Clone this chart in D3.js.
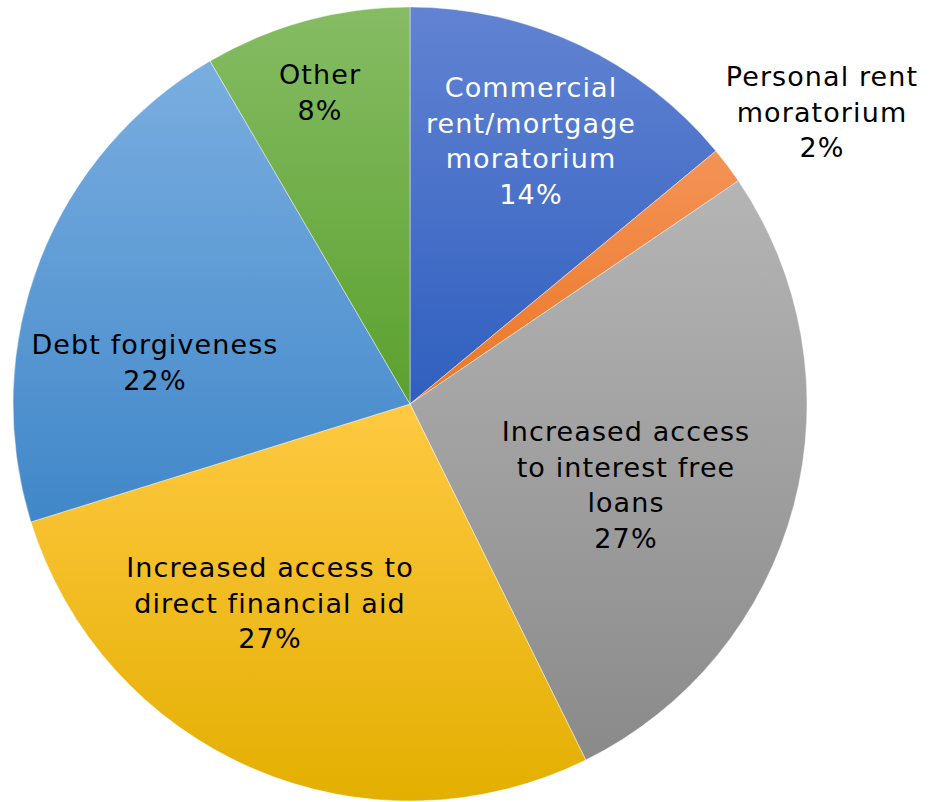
<!DOCTYPE html>
<html>
<head>
<meta charset="utf-8">
<script src="https://cdn.jsdelivr.net/npm/d3@7"></script>
<style>
  body { margin: 0; background: #fff; }
  svg { display: block; font-family: 'DejaVu Sans', Verdana, sans-serif; }
</style>
</head>
<body>
<div id="chart"></div>
<script>
// slice data, clockwise from 12 o'clock
var categories = [
  "Commercial rent/mortgage moratorium",
  "Personal rent moratorium",
  "Increased access to interest free loans",
  "Increased access to direct financial aid",
  "Debt forgiveness",
  "Other"
];
var values = [14.0, 1.5, 27.2, 27.5, 21.4, 8.4];
var pctLabels = ["14%", "2%", "27%", "27%", "22%", "8%"];
var labelLines = [
  ["Commercial", "rent/mortgage", "moratorium"],
  ["Personal rent", "moratorium"],
  ["Increased access", "to interest free", "loans"],
  ["Increased access to", "direct financial aid"],
  ["Debt forgiveness"],
  ["Other"]
];

// gradient stops per slice, top -> bottom
var colorsTop = ["#6283d2", "#f49357", "#b5b5b5", "#ffc942", "#7aaee0", "#86bc64"];
var colorsBottom = ["#2f5fbf", "#ec7624", "#8a8a8a", "#e3af00", "#4087c9", "#5ba12e"];
var labelFill = ["#fff", "#000", "#000", "#000", "#000", "#000"];

// label anchors (offset from pie centre, first baseline)
var labelSpots = [[121, -307], [412, -318], [216, 37], [-140, 173], [-255, -50], [-90, -320]];

var W = 935, H = 802;
var cx = 410, cy = 404, R = 397;
var fontSize = 27, lineH = 35.5;

var svg = d3.select("#chart").append("svg").attr("width", W).attr("height", H);
var defs = svg.append("defs");

colorsTop.forEach(function(c, i) {
  var g = defs.append("linearGradient").attr("id", "grad" + i)
    .attr("x1", 0).attr("y1", 0).attr("x2", 0).attr("y2", 1);
  g.append("stop").attr("offset", "0%").attr("stop-color", c);
  g.append("stop").attr("offset", "100%").attr("stop-color", colorsBottom[i]);
});

var pie = d3.pie().sort(null).value(function(d) { return d; });
var arc = d3.arc().innerRadius(0).outerRadius(R);
var arcs = pie(values);

var g = svg.append("g").attr("transform", "translate(" + cx + "," + cy + ")");

g.selectAll("path.slice").data(arcs).enter()
  .append("path").attr("class", "slice")
  .attr("d", arc)
  .attr("fill", function(d, i) { return "url(#grad" + i + ")"; })
  .attr("stroke", "#ffffff").attr("stroke-width", 0.6).attr("stroke-opacity", 0.7);

var labels = g.selectAll("text.lbl").data(arcs).enter()
  .append("text").attr("class", "lbl")
  .attr("text-anchor", "middle")
  .attr("font-size", fontSize)
  .attr("letter-spacing", 1.1)
  .attr("fill", function(d, i) { return labelFill[i]; });

labels.each(function(d, i) {
  var t = d3.select(this);
  var lines = labelLines[i].concat([pctLabels[i]]);
  lines.forEach(function(s, k) {
    t.append("tspan").attr("x", labelSpots[i][0]).attr("y", labelSpots[i][1] + k * lineH).text(s);
  });
});
</script>
</body>
</html>
